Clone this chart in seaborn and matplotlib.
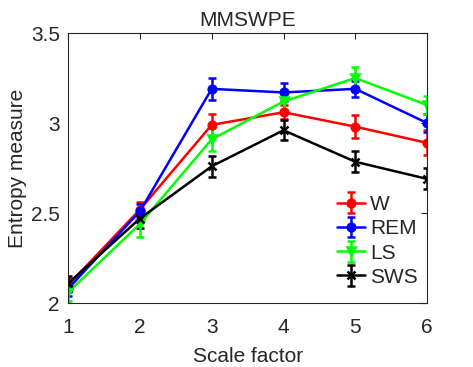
import matplotlib
matplotlib.use("Agg")
import matplotlib.pyplot as plt
import seaborn as sns
import numpy as np
from matplotlib.ticker import FixedLocator, FuncFormatter

scale = [1, 2, 3, 4, 5, 6]
labels = ["W", "REM", "LS", "SWS"]
w_mean = [2.10, 2.52, 2.99, 3.06, 2.98, 2.89]
w_err = [0.04, 0.04, 0.06, 0.04, 0.065, 0.07]
rem_mean = [2.08, 2.51, 3.19, 3.17, 3.19, 3.00]
rem_err = [0.04, 0.04, 0.06, 0.05, 0.045, 0.05]
ls_mean = [2.06, 2.44, 2.91, 3.12, 3.25, 3.10]
ls_err = [0.05, 0.07, 0.065, 0.045, 0.06, 0.05]
sws_mean = [2.11, 2.47, 2.76, 2.96, 2.785, 2.69]
sws_err = [0.04, 0.05, 0.058, 0.055, 0.058, 0.058]
colors = ["#ff0000", "#0000ff", "#00ff00", "#000000"]
markers = ["o", "o", "v", "x"]
yticks = [2, 2.5, 3, 3.5]

sns.set_style("white")
plt.rcParams["font.family"] = ["Liberation Sans", "DejaVu Sans"]

fig = plt.figure(figsize=(4.73, 3.67), dpi=100)
ax = fig.add_axes([0.144, 0.174, 0.759, 0.736])

means = [w_mean, rem_mean, ls_mean, sws_mean]
errs = [w_err, rem_err, ls_err, sws_err]
for lab, m, e, c, mk in zip(labels, means, errs, colors, markers):
    sns.lineplot(x=scale, y=m, ax=ax, color=c, lw=0, legend=False)
    ax.errorbar(scale, m, yerr=e, color=c, marker=mk, markersize=5.5,
                markeredgewidth=1.8, lw=1.8, elinewidth=1.8, capsize=3,
                capthick=1.8, label=lab)

ax.set_xlim(1, 6)
ax.set_ylim(2, 3.5)
ax.xaxis.set_major_locator(FixedLocator(scale))
ax.yaxis.set_major_locator(FixedLocator(yticks))
ax.yaxis.set_major_formatter(FuncFormatter(lambda v, p: f"{v:g}"))
ax.tick_params(direction="in", length=4, width=0.8, top=True, right=True,
               labelsize=15, colors="#262626", pad=6)
ax.tick_params(axis="x", pad=11)
for s in ax.spines.values():
    s.set_visible(True)
    s.set_color("#262626")
    s.set_linewidth(0.8)

ax.set_title("MMSWPE", fontsize=15, pad=5)
ax.set_xlabel("Scale factor", fontsize=15, color="#262626", labelpad=7)
ax.set_ylabel("Entropy measure", fontsize=15, color="#262626", labelpad=2.5)

ax.legend(loc="upper left", bbox_to_anchor=(0.749, 0.40), frameon=False,
          fontsize=15, handlelength=1.35, handletextpad=0.25,
          labelspacing=0.25, borderpad=0, borderaxespad=0)

fig.savefig("out.png", dpi=100)
